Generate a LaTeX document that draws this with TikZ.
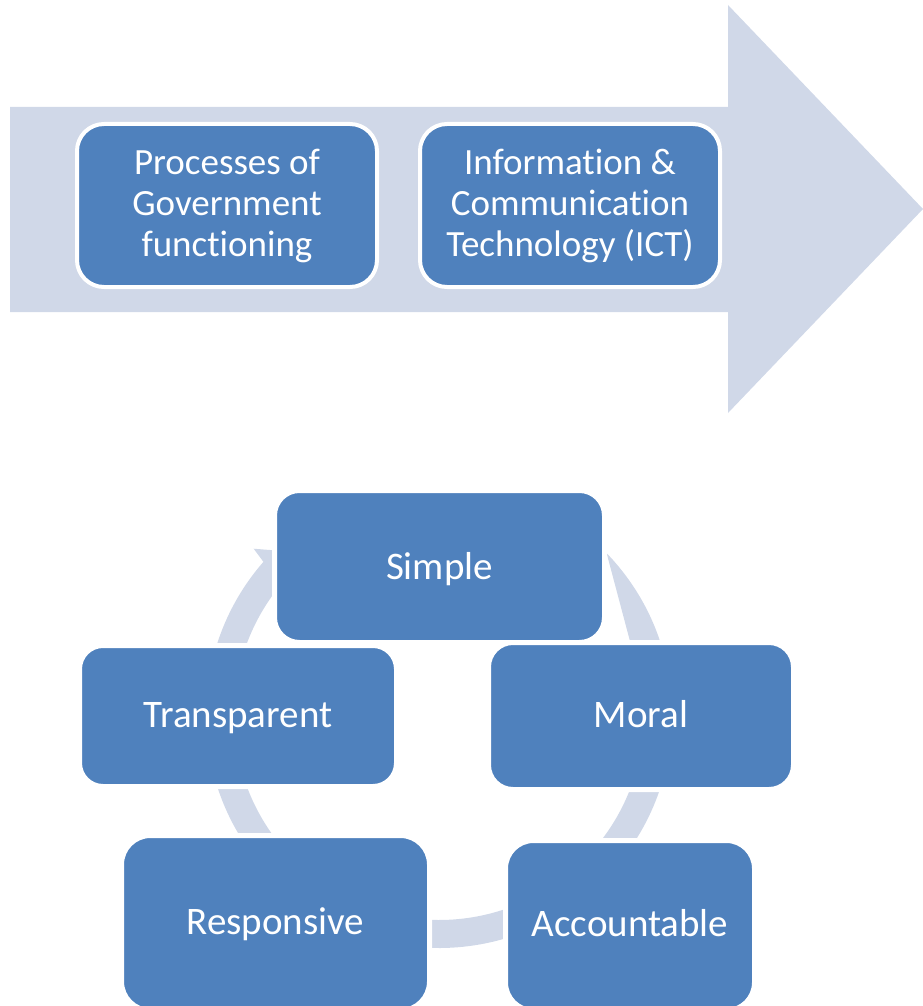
\documentclass[tikz,border=0pt]{standalone}
\usepackage{fontspec}
\setmainfont{Carlito}[Ligatures=NoCommon]
\definecolor{boxblue}{RGB}{79,129,189}
\definecolor{paleblue}{RGB}{208,216,232}
\tikzset{
  topbox/.style={draw=white, line width=4pt, fill=boxblue, text=white,
    rounded corners=27pt, minimum width=300pt, minimum height=163pt,
    inner sep=0pt, align=center, font=\fontsize{37}{41}\selectfont},
  cycbox/.style={draw=white, line width=5pt, fill=boxblue, text=white,
    inner sep=0pt, text height=31pt, text depth=9pt,
    font=\fontsize{39}{47}\selectfont},
  pale/.style={fill=paleblue, draw=none}
}
\begin{document}
\begin{tikzpicture}[x=1pt,y=1pt]
\useasboundingbox (0,0) rectangle (923,-1006);
\clip (0,0) rectangle (923,-1006);
% big block arrow
\fill[pale] (10,-107) -- (728,-107) -- (728,-5) -- (923,-209) -- (728,-413)
  -- (728,-312) -- (10,-312) -- cycle;
\node[topbox] (proc) at (227,-205.5) {Processes of\\Government\\functioning};
\node[topbox] (ict) at (570,-205.5) {Information \&\\Communication\\Technology (ICT)};
% cycle ring
\coordinate (C) at (439,-715);
\fill[pale] ([shift={(44:233pt)}]C) arc[start angle=44, end angle=-221.1, radius=233pt]
  -- ([shift={(138.1:249pt)}]C) -- ([shift={(130:212pt)}]C)
  -- ([shift={(138.1:189pt)}]C) -- ([shift={(138.9:205pt)}]C)
  arc[start angle=-221.1, end angle=21.7, radius=205pt] -- cycle;
% cycle boxes
\node[cycbox, minimum width=330pt, minimum height=152pt, rounded corners=25pt, text height=33pt, text depth=7pt] (simple) at (439.5,-566.5) {Simple};
\node[cycbox, minimum width=305pt, minimum height=147pt, rounded corners=24.5pt] (moral) at (641,-716) {Moral};
\node[cycbox, minimum width=249pt, minimum height=170pt, rounded corners=28pt] (acc) at (630,-925.5) {Accountable};
\node[cycbox, minimum width=308pt, minimum height=175pt, rounded corners=29pt] (resp) at (275.5,-923) {Responsive};
\node[cycbox, minimum width=317pt, minimum height=141pt, rounded corners=23.5pt] (trans) at (238,-716) {Transparent};
\end{tikzpicture}
\end{document}
